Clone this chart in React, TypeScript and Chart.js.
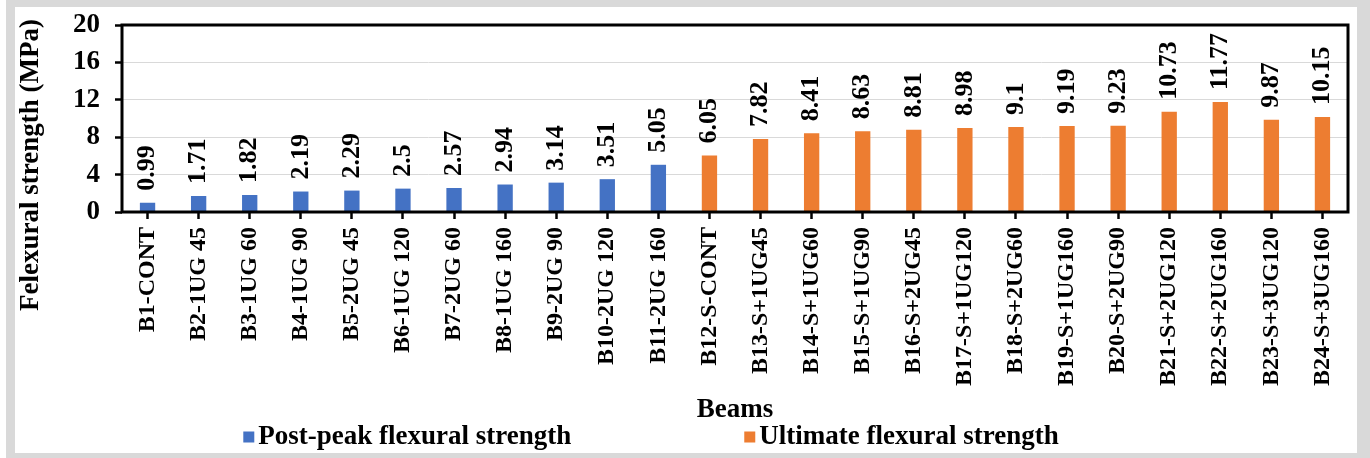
import React, { useEffect, useRef } from 'react';
import { Chart, registerables } from 'chart.js';

Chart.register(...registerables);

const categories = [
  'B1-CONT', 'B2-1UG 45', 'B3-1UG 60', 'B4-1UG 90', 'B5-2UG 45', 'B6-1UG 120',
  'B7-2UG 60', 'B8-1UG 160', 'B9-2UG 90', 'B10-2UG 120', 'B11-2UG 160',
  'B12-S-CONT', 'B13-S+1UG45', 'B14-S+1UG60', 'B15-S+1UG90', 'B16-S+2UG45',
  'B17-S+1UG120', 'B18-S+2UG60', 'B19-S+1UG160', 'B20-S+2UG90', 'B21-S+2UG120',
  'B22-S+2UG160', 'B23-S+3UG120', 'B24-S+3UG160',
];

const postPeak = [
  0.99, 1.71, 1.82, 2.19, 2.29, 2.5, 2.57, 2.94, 3.14, 3.51, 5.05,
  null, null, null, null, null, null, null, null, null, null, null, null, null,
];

const ultimate = [
  null, null, null, null, null, null, null, null, null, null, null,
  6.05, 7.82, 8.41, 8.63, 8.81, 8.98, 9.1, 9.19, 9.23, 10.73, 11.77, 9.87, 10.15,
];

const yMin = 0;
const yMax = 20;
const yStep = 4;

const seriesNames = ['Post-peak flexural strength', 'Ultimate flexural strength'];
const seriesColors = ['#4472C4', '#ED7D31'];
const yTitle = 'Felexural strength (MPa)';
const xTitle = 'Beams';

const FONT = '"Liberation Serif", "Times New Roman", serif';

const valueLabels = {
  id: 'valueLabels',
  afterDatasetsDraw(chart: any) {
    const ctx = chart.ctx;
    ctx.save();
    ctx.font = `bold 26px ${FONT}`;
    ctx.fillStyle = '#000';
    ctx.textAlign = 'left';
    ctx.textBaseline = 'middle';
    chart.data.datasets.forEach((ds: any, di: number) => {
      const meta = chart.getDatasetMeta(di);
      meta.data.forEach((el: any, i: number) => {
        const v = ds.data[i];
        if (v == null) return;
        ctx.save();
        ctx.translate(el.x, el.y - 12);
        ctx.rotate(-Math.PI / 2);
        ctx.fillText(String(v), 0, 0);
        ctx.restore();
      });
    });
    ctx.restore();
  },
};

const frameAndTitles = {
  id: 'frameAndTitles',
  afterDraw(chart: any) {
    const ctx = chart.ctx;
    const a = chart.chartArea;
    ctx.save();
    ctx.strokeStyle = '#000';
    ctx.lineWidth = 3;
    ctx.strokeRect(a.left, a.top, a.right - a.left, a.bottom - a.top);

    // y-axis title
    ctx.font = `bold 27px ${FONT}`;
    ctx.fillStyle = '#000';
    ctx.textAlign = 'center';
    ctx.textBaseline = 'middle';
    ctx.save();
    ctx.translate(31, 165);
    ctx.rotate(-Math.PI / 2);
    ctx.fillText(yTitle, 0, 0);
    ctx.restore();

    // legend
    const box = 11;
    const gap = 4;
    const itemGap = 173;
    const widths = seriesNames.map((n) => ctx.measureText(n).width);
    const total = widths.reduce((s, w) => s + box + gap + w, 0) + itemGap;
    let x = 651 - total / 2;
    const y = 437;
    ctx.textAlign = 'left';
    seriesNames.forEach((n, i) => {
      ctx.fillStyle = seriesColors[i];
      ctx.fillRect(x, y - box / 2, box, box);
      x += box + gap;
      ctx.fillStyle = '#000';
      ctx.fillText(n, x, y);
      x += widths[i] + itemGap;
    });
    ctx.restore();
  },
};

export default function App() {
  const canvasRef = useRef<HTMLCanvasElement | null>(null);

  useEffect(() => {
    const canvas = canvasRef.current;
    if (!canvas) return;
    const chart = new Chart(canvas, {
      type: 'bar',
      data: {
        labels: categories,
        datasets: [
          {
            label: seriesNames[0],
            data: postPeak,
            backgroundColor: seriesColors[0],
            grouped: false,
            barPercentage: 0.3,
            categoryPercentage: 1,
          } as any,
          {
            label: seriesNames[1],
            data: ultimate,
            backgroundColor: seriesColors[1],
            grouped: false,
            barPercentage: 0.3,
            categoryPercentage: 1,
          } as any,
        ],
      },
      options: {
        responsive: false,
        animation: false,
        devicePixelRatio: 1,
        layout: { padding: { left: 0, top: 25, right: 22, bottom: 32 } },
        plugins: {
          legend: { display: false },
          tooltip: { enabled: false },
          title: { display: false },
        },
        scales: {
          x: {
            grid: {
              display: true,
              drawOnChartArea: false,
              drawTicks: true,
              tickLength: 7,
              tickColor: '#000',
              tickWidth: 2.5,
              offset: false,
            },
            border: { display: false },
            ticks: {
              autoSkip: false,
              maxRotation: 90,
              minRotation: 90,
              color: '#000',
              padding: 8,
              font: { family: FONT, size: 24, weight: 'bold' },
            },
            title: {
              display: true,
              text: xTitle,
              color: '#000',
              padding: { top: 0, bottom: 0 },
              font: { family: FONT, size: 27, weight: 'bold' },
            },
            afterFit(scale: any) {
              scale.height = 214;
              scale.paddingLeft = 0;
              scale.paddingRight = 0;
            },
          },
          y: {
            min: yMin,
            max: yMax,
            ticks: {
              stepSize: yStep,
              color: '#000',
              padding: 15,
              font: { family: FONT, size: 27, weight: 'bold' },
            },
            grid: {
              color: '#d9d9d9',
              lineWidth: 1,
              tickColor: '#000',
              tickLength: 7,
              tickWidth: 2.5,
            },
            border: { display: false },
            afterFit(scale: any) {
              scale.width = 122;
              scale.paddingTop = 0;
              scale.paddingBottom = 0;
            },
          },
        },
      },
      plugins: [valueLabels, frameAndTitles],
    });
    return () => chart.destroy();
  }, []);

  return (
    <div style={{ position: 'absolute', left: 0, top: 0, width: 1370, height: 458, background: '#fff' }}>
      <div style={{ position: 'absolute', left: 6, top: 0, width: 1364, height: 458, background: '#d9d9d9' }} />
      <div style={{ position: 'absolute', left: 15, top: 7, width: 1342, height: 446, background: '#fff' }} />
      <canvas
        ref={canvasRef}
        width={1370}
        height={458}
        style={{ position: 'absolute', left: 0, top: 0, width: 1370, height: 458 }}
      />
    </div>
  );
}
